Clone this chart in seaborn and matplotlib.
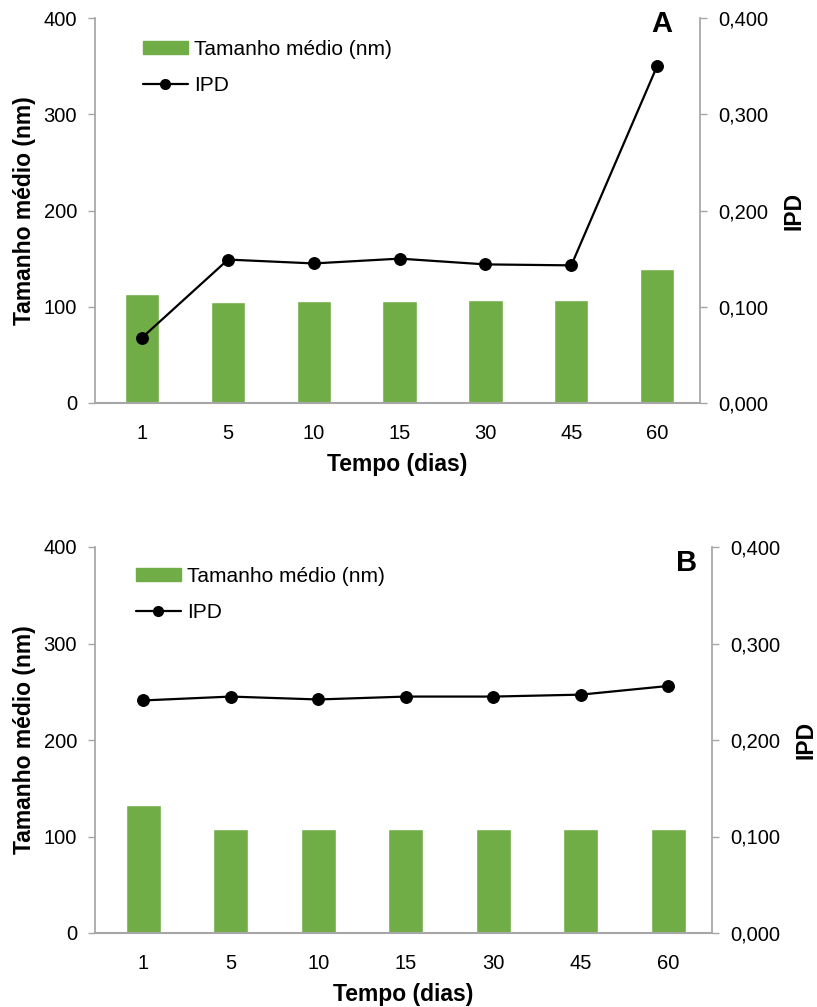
import matplotlib
matplotlib.use("Agg")
import matplotlib.pyplot as plt
import seaborn as sns
import pandas as pd
from matplotlib.lines import Line2D
from matplotlib.patches import Patch

# Storage time points (days)
dias = ["1", "5", "10", "15", "30", "45", "60"]

# Panel A: mean size (nm) and polydispersity index
tamanho_a = [113, 105, 106, 106, 107, 107, 139]
ipd_a = [0.068, 0.149, 0.145, 0.150, 0.144, 0.143, 0.350]

# Panel B: mean size (nm) and polydispersity index
tamanho_b = [133, 108, 108, 108, 108, 108, 108]
ipd_b = [0.241, 0.245, 0.242, 0.245, 0.245, 0.247, 0.256]

left_ticks = [0, 100, 200, 300, 400]
right_ticks = [0.0, 0.1, 0.2, 0.3, 0.4]

sns.set_theme(style="white")
plt.rcParams["font.family"] = ["Liberation Sans", "DejaVu Sans"]
plt.rcParams["text.color"] = "black"
plt.rcParams["axes.labelcolor"] = "black"

GREEN = "#70AD47"
GRAY = "#A6A6A6"
TICK_FS = 14.5
LABEL_FS = 16.5
LEGEND_FS = 15

fig = plt.figure(figsize=(8.17, 10.07), dpi=100)


def panel(rect, tamanho, ipd, letter, letter_xy, legend_xy):
    ax = fig.add_axes(rect)
    df = pd.DataFrame({"dias": dias, "tamanho": tamanho, "ipd": ipd})
    sns.barplot(data=df, x="dias", y="tamanho", color=GREEN, width=0.4,
                saturation=1, ax=ax, zorder=2)
    ax.set_ylim(0, 400)
    ax.set_yticks(left_ticks)
    ax.set_yticklabels([str(t) for t in left_ticks])

    ax2 = ax.twinx()
    sns.lineplot(data=df, x="dias", y="ipd", color="black", linewidth=1.6,
                 marker="o", markersize=8.5, markeredgecolor="black",
                 sort=False, ax=ax2, zorder=3)
    ax2.set_ylim(0, 0.4)
    ax2.set_yticks(right_ticks)
    ax2.set_yticklabels([f"{t:.3f}".replace(".", ",") for t in right_ticks])
    ax.set_xlim(-0.55, 6.5)
    ax2.set_xlim(-0.55, 6.5)

    for a in (ax, ax2):
        for s in a.spines.values():
            s.set_visible(False)
        a.tick_params(axis="both", labelsize=TICK_FS, colors=GRAY,
                      labelcolor="black", length=5, width=1)
    ax.spines["left"].set_visible(True)
    ax.spines["left"].set_color(GRAY)
    ax.spines["bottom"].set_visible(True)
    ax.spines["bottom"].set_color(GRAY)
    ax.spines["bottom"].set_linewidth(1.5)
    ax2.spines["right"].set_visible(True)
    ax2.spines["right"].set_color(GRAY)
    ax.tick_params(axis="x", length=0, pad=15)
    ax.tick_params(axis="y", pad=8)
    ax2.tick_params(axis="y", pad=8)

    ax.set_xlabel("Tempo (dias)", fontsize=LABEL_FS, fontweight="bold",
                  labelpad=7)
    ax.set_ylabel("Tamanho médio (nm)", fontsize=LABEL_FS, fontweight="bold",
                  labelpad=5)
    ax2.set_ylabel("IPD", fontsize=LABEL_FS, fontweight="bold", labelpad=10)

    handles = [Patch(facecolor=GREEN, edgecolor=GREEN),
               Line2D([0], [0], color="black", lw=1.6, marker="o",
                      markersize=7)]
    ax2.legend(handles, ["Tamanho médio (nm)", "IPD"], loc="upper left",
               bbox_to_anchor=legend_xy, bbox_transform=fig.transFigure,
               frameon=False, fontsize=LEGEND_FS, handlelength=2.15,
               handleheight=0.55, handletextpad=0.3, labelspacing=0.8,
               borderaxespad=0, borderpad=0)

    fig.text(letter_xy[0], letter_xy[1], letter, fontsize=21,
             fontweight="bold", ha="center", va="center")


panel([95 / 817, 1 - 403 / 1007, 605 / 817, 385 / 1007],
      tamanho_a, ipd_a, "A", (662 / 817, 1 - 24 / 1007),
      (143 / 817, 1 - 40 / 1007))
panel([95 / 817, 1 - 933 / 1007, 617 / 817, 386 / 1007],
      tamanho_b, ipd_b, "B", (687 / 817, 1 - 563 / 1007),
      (136 / 817, 1 - 567 / 1007))

fig.savefig("out.png", dpi=100)
